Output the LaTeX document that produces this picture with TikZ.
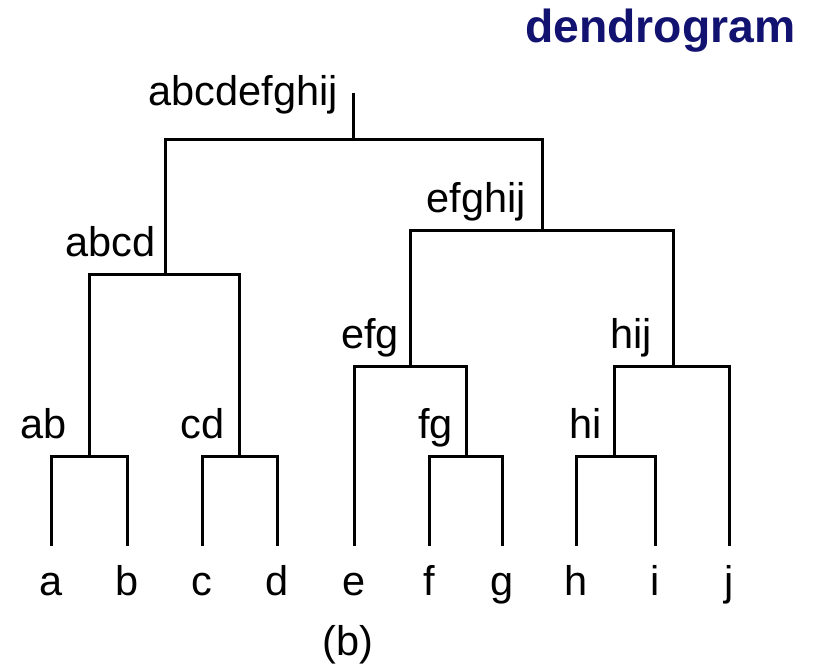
\documentclass[tikz,border=0pt]{standalone}
\usepackage{fontspec}
\setmainfont{Liberation Sans}
\definecolor{titlenavy}{RGB}{18,18,112}
\begin{document}
\begin{tikzpicture}[x=1pt,y=-1pt,
  tree/.style={line width=3pt,line cap=butt,line join=miter},
  leaflabel/.style={inner sep=0pt,anchor=base,font=\fontsize{41.5}{48}\selectfont},
  clusterlabel/.style={inner sep=0pt,anchor=base east,font=\fontsize{41.5}{48}\selectfont},
  titlelabel/.style={inner sep=0pt,anchor=base west,text=titlenavy,font=\fontsize{46.3}{52}\selectfont\bfseries}]
\useasboundingbox (0,0) rectangle (817,671);

% title
\node[titlelabel] (title) at (525,43) {dendrogram};

% leaf ends and leaf labels
\foreach \n/\x in {a/51,b/127,c/202,d/277,e/354,f/429,g/502,h/576,i/655,j/729}{
  \coordinate (t\n) at (\x,546);
  \node[leaflabel] (l\n) at (\x,595) {\n};
}

% merge points (middle of each horizontal bar)
\coordinate (mab) at (89,456);
\coordinate (mcd) at (239,456);
\coordinate (mfg) at (466,456);
\coordinate (mhi) at (614,456);
\coordinate (mefg) at (410,366);
\coordinate (mhij) at (673,366);
\coordinate (mabcd) at (165,275);
\coordinate (mefghij) at (542,231);
\coordinate (mall) at (353,140);
\coordinate (root) at (353,93);

% tree
\draw[tree] (ta) |- (mab) -| (tb);
\draw[tree] (tc) |- (mcd) -| (td);
\draw[tree] (tf) |- (mfg) -| (tg);
\draw[tree] (th) |- (mhi) -| (ti);
\draw[tree] (mab) |- (mabcd) -| (mcd);
\draw[tree] (te) |- (mefg) -| (mfg);
\draw[tree] (mhi) |- (mhij) -| (tj);
\draw[tree] (mefg) |- (mefghij) -| (mhij);
\draw[tree] (mabcd) |- (mall) -| (mefghij);
\draw[tree] (mall) -- (root);

% cluster labels
\node[clusterlabel] (lab) at (67,438) {ab};
\node[clusterlabel] (lcd) at (225,438) {cd};
\node[clusterlabel] (lfg) at (453,438) {fg};
\node[clusterlabel] (lhi) at (602,438) {hi};
\node[clusterlabel] (lefg) at (399,348) {efg};
\node[clusterlabel] (lhij) at (652,348) {hij};
\node[clusterlabel] (labcd) at (156,257) {abcd};
\node[clusterlabel] (lefghij) at (526,213) {efghij};
\node[clusterlabel] (lall) at (338,106) {abcdefghij};

% caption
\node[leaflabel] (caption) at (348,655) {(b)};
\end{tikzpicture}
\end{document}
